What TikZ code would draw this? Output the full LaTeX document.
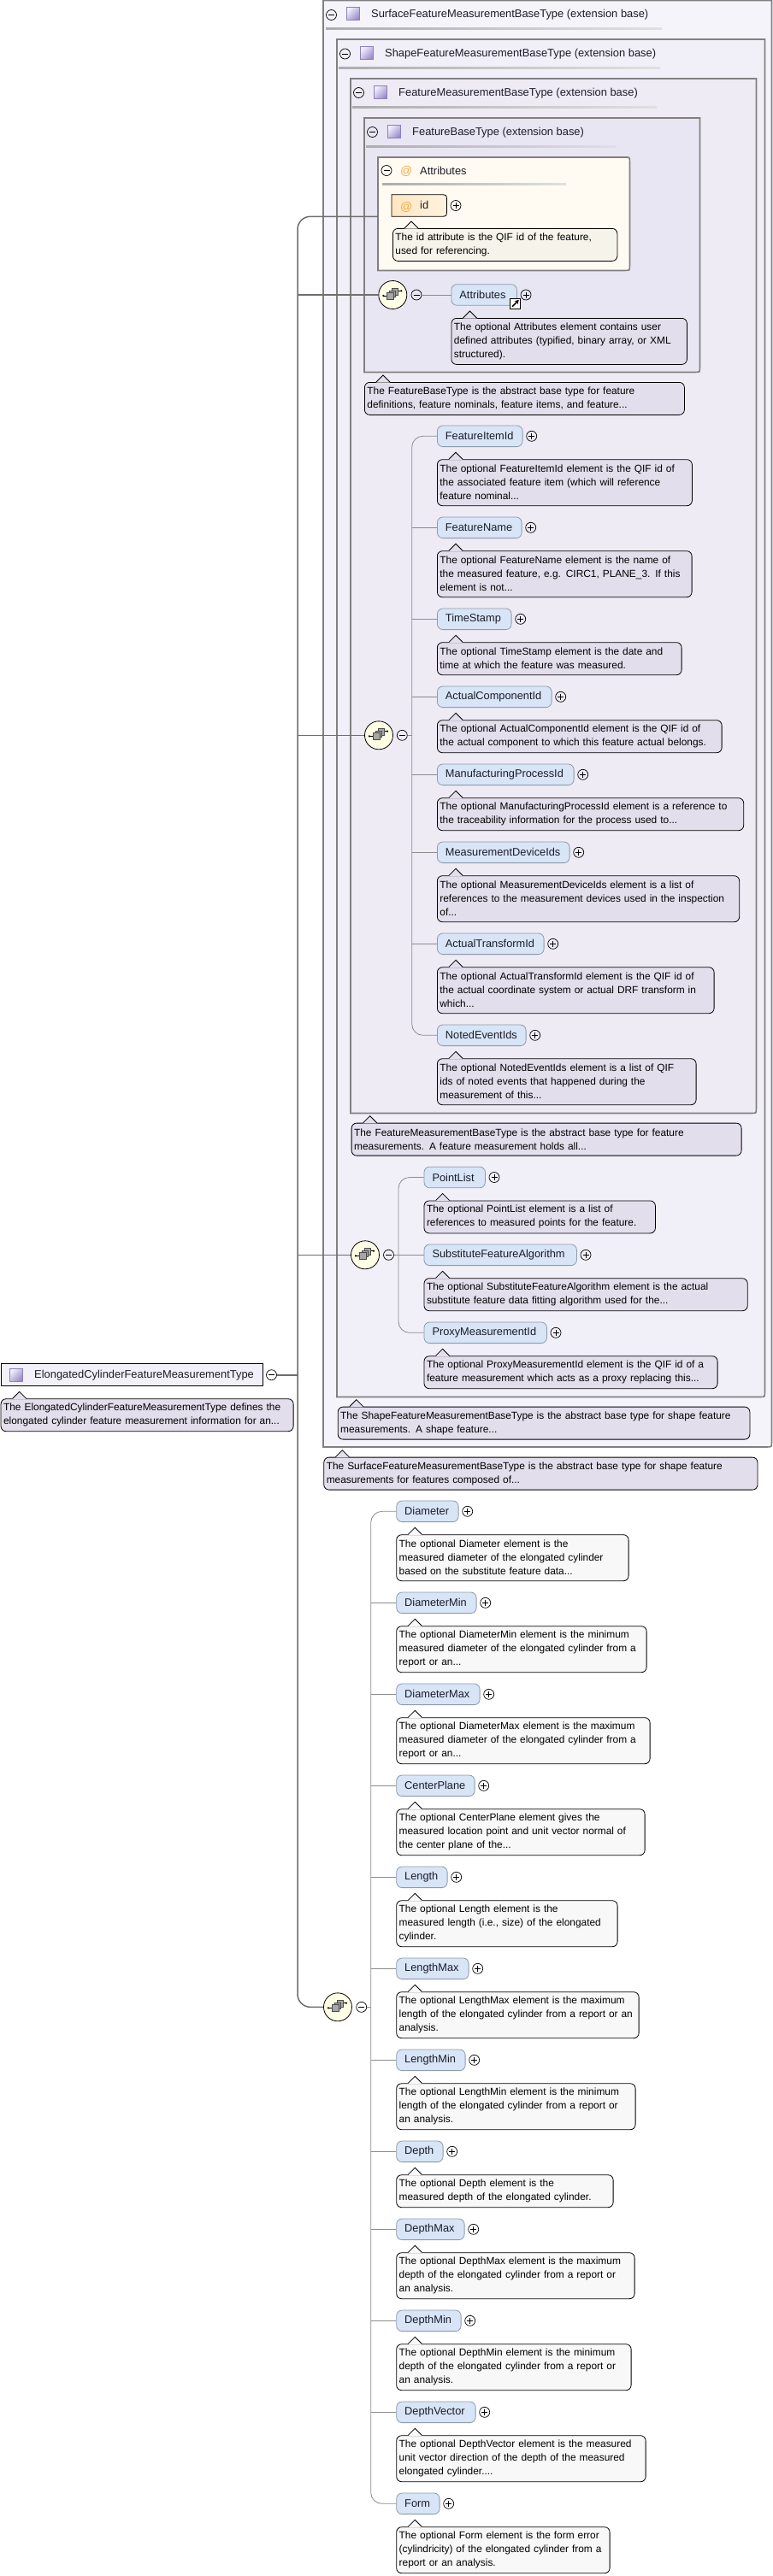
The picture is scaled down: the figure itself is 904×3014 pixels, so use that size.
\documentclass[tikz,border=0pt]{standalone}
\usepackage{fontspec}
\setmainfont{Liberation Sans}
\usetikzlibrary{calc,arrows.meta}

\hyphenpenalty=10000
\exhyphenpenalty=10000

\definecolor{linegray}{HTML}{808080}
\definecolor{branchgray}{HTML}{8C8C8C}
\definecolor{busgray}{HTML}{6E6E6E}
\definecolor{elemfill}{HTML}{D7E5F7}
\definecolor{elemline}{HTML}{8E9BAA}
\definecolor{noteviolet}{HTML}{E3DEEC}
\definecolor{notewhite}{HTML}{F8F8F8}
\definecolor{notecream}{HTML}{F6F3EA}
\definecolor{roletext}{HTML}{1C1C28}
\definecolor{atorange}{HTML}{F0AC45}
\definecolor{surfacefill}{HTML}{F6F4FB}
\definecolor{shapefill}{HTML}{F1EFF8}
\definecolor{measurefill}{HTML}{EEEBF5}
\definecolor{featurefill}{HTML}{E9E6F3}
\definecolor{attrfill}{HTML}{FFFBF2}
\definecolor{rootfill}{HTML}{F2F0F9}
\definecolor{iconlight}{HTML}{F1EFFA}
\definecolor{icondark}{HTML}{9C8CCB}
\definecolor{iconline}{HTML}{8D7FBD}
\definecolor{seqfill}{HTML}{FFFFE6}
\definecolor{idleft}{HTML}{FFE6C2}
\definecolor{idright}{HTML}{FFF3DE}
\colorlet{notefill}{noteviolet}

\pgfdeclarehorizontalshading{titlerule}{100bp}{color(0bp)=(gray!8); color(18bp)=(gray!70); color(100bp)=(gray!4)}

\newcommand{\notebox}[6]{%
  \pgfmathsetlengthmacro{\notew}{(#4-#2)*1pt}%
  \pgfmathsetlengthmacro{\notetw}{(#4-#2-6)*1pt}%
  \node[notenode, minimum width=\notew, text width=\notetw, minimum height=#5pt] (#1) at (#2,#3) {#6};
  \fill[notefill] ($(#1.north west)+(14,0.7)$) -- ++(8,-8.7) -- ++(8,8.7) -- cycle;
  \draw[notetip] ($(#1.north west)+(14,0)$) -- ++(8,-8) -- ++(8,8);
}
\newcommand{\elemrow}[7]{%
  \pgfmathsetlengthmacro{\elemw}{(#4-\rowx)*1pt}%
  \pgfmathsetlengthmacro{\elemtw}{(#4-\rowx-19)*1pt}%
  \node[elemnode, minimum width=\elemw, text width=\elemtw] (#1) at (\rowx,#3) {#2};
  \node[plusnode] (#1Plus) at ({#4+11},#3) {};
  \pgfmathsetmacro{\notetop}{#3+27}%
  \notebox{#1Note}{\rowx}{\notetop}{#5}{#6}{#7}
}
\newcommand{\groupbox}[6]{%
  \pgfmathsetlengthmacro{\groupw}{(#4-#2)*1pt}%
  \pgfmathsetlengthmacro{\grouph}{(#5-#3)*1pt}%
  \node[anchor=north west, inner sep=0pt, minimum width=\groupw, minimum height=\grouph] (#1) at (#2,#3) {};
  \draw[groupline, fill=#6] (#1.north west) -- (#1.north east) -- ($(#1.south east)+(0,-5)$)
    .. controls (#1.south east) .. ($(#1.south east)+(-5,0)$) -- (#1.south west) -- cycle;
}
\newcommand{\seqmark}[1]{%
  \begin{scope}[shift={(#1.center)}]
    \draw[line width=.9pt] (-11,1) -- (-6,1);
    \draw[line width=.9pt] (5,-4.7) -- (10,-4.7);
    \fill (-11,1) circle (1.2);
    \fill (10,-4.7) circle (1.2);
    \draw[seqsquare] (-1,-7.5) rectangle (6.5,0);
    \draw[seqsquare] (-4,-5) rectangle (3.5,2.5);
    \draw[seqsquare] (-7,-2.5) rectangle (1,5.2);
  \end{scope}
}

\begin{document}
\begin{tikzpicture}[
  x=1pt, y=-1pt,
  font=\fontsize{11.9}{16}\selectfont,
  groupline/.style={draw=linegray, line width=1.7pt},
  titletext/.style={anchor=west, inner sep=0pt, text=roletext, font=\fontsize{12.9}{16}\selectfont},
  titlerulebar/.style={shading=titlerule},
  typeicon/.style={draw=iconline, line width=.8pt, minimum size=15pt, inner sep=0pt,
    top color=iconlight, bottom color=icondark, shading angle=45},
  notenode/.style={draw=black, line width=.8pt, fill=notefill, rounded corners=6pt, anchor=north west,
    inner xsep=3pt, inner ysep=0pt, align=left, text=black},
  notetip/.style={draw=black, line width=.8pt},
  elemnode/.style={draw=elemline, line width=.8pt, fill=elemfill, rounded corners=6.5pt, anchor=west,
    minimum height=24.6pt, inner xsep=9.5pt, inner ysep=0pt, align=left, text=roletext,
    font=\fontsize{12.8}{16}\selectfont},
  plusnode/.style={circle, draw=black, line width=.7pt, minimum size=12pt, inner sep=0pt,
    path picture={\draw[line width=.7pt] ($(path picture bounding box.center)+(-3.5,0)$) -- ++(7,0);
      \draw[line width=.7pt] ($(path picture bounding box.center)+(0,-3.5)$) -- ++(0,7);}},
  minusnode/.style={circle, draw=black, line width=.7pt, minimum size=12pt, inner sep=0pt,
    path picture={\draw[line width=.7pt] ($(path picture bounding box.center)+(-3.5,0)$) -- ++(7,0);}},
  seqnode/.style={circle, draw=black, line width=.8pt, fill=seqfill, minimum size=33pt, inner sep=0pt},
  seqsquare/.style={draw=black!70, line width=.7pt, fill=black!35},
  branch/.style={draw=branchgray, line width=.8pt},
  bus/.style={draw=busgray, line width=1.5pt},
  linkbox/.style={draw=black, fill=white, line width=.8pt, minimum size=12pt, inner sep=0pt}
]
  \useasboundingbox (0,0) rectangle (904,3014);
  \fill[white] (0,0) rectangle (904,3014);

  % nested extension bases
  \groupbox{surfaceBox}{378}{0.5}{902}{1692.5}{surfacefill}
  \groupbox{shapeBox}{394}{46}{894}{1634}{shapefill}
  \groupbox{measureBox}{410}{92}{884}{1302}{measurefill}
  \groupbox{featureBox}{426}{138}{818}{435}{featurefill}

  \node[minusnode] (surfaceMinus) at (387.5,17.5) {};
  \node[typeicon] (surfaceIcon) at (413,16) {};
  \node[titletext] (surfaceTitle) at (434,17) {SurfaceFeatureMeasurementBaseType (extension base)};
  \shade[titlerulebar] (381,32.5) rectangle (774,34.5);
  \node[minusnode] (shapeMinus) at (403.5,63) {};
  \node[typeicon] (shapeIcon) at (429,62) {};
  \node[titletext] (shapeTitle) at (450,63) {ShapeFeatureMeasurementBaseType (extension base)};
  \shade[titlerulebar] (396,78.5) rectangle (772,80.5);
  \node[minusnode] (measureMinus) at (419.5,108.5) {};
  \node[typeicon] (measureIcon) at (445,108) {};
  \node[titletext] (measureTitle) at (466,109) {FeatureMeasurementBaseType (extension base)};
  \shade[titlerulebar] (412,124.5) rectangle (768,126.5);
  \node[minusnode] (featureMinus) at (435.5,154.5) {};
  \node[typeicon] (featureIcon) at (461,154) {};
  \node[titletext] (featureTitle) at (482,155) {FeatureBaseType (extension base)};
  \shade[titlerulebar] (428,170.5) rectangle (721,172.5);

  % attribute group
  \node[anchor=north west, inner sep=0pt, minimum width=294pt, minimum height=132pt] (attrBox) at (442,184) {};
  \draw[groupline, fill=attrfill] (attrBox.north west) -- ($(attrBox.north east)+(-5,0)$)
    .. controls (attrBox.north east) .. ($(attrBox.north east)+(0,5)$)
    -- ($(attrBox.south east)+(0,-5)$) .. controls (attrBox.south east) .. ($(attrBox.south east)+(-5,0)$)
    -- (attrBox.south west) -- cycle;
  \node[minusnode] (attrMinus) at (452,199.5) {};
  \node[titletext, text=atorange, font=\fontsize{14}{16}\selectfont] (attrAt) at (468,200.5) {@};
  \node[titletext] (attrTitle) at (491,199.5) {Attributes};
  \shade[titlerulebar] (447,214.5) rectangle (662,216.5);
  \node[anchor=west, inner sep=0pt, minimum width=64pt, minimum height=25pt] (idAttr) at (458,240.5) {};
  \draw[draw=black, line width=.8pt, left color=idleft, right color=idright]
    (idAttr.north west) -- ($(idAttr.north east)+(-7,0)$) .. controls (idAttr.north east) .. ($(idAttr.north east)+(0,7)$)
    -- ($(idAttr.south east)+(0,-7)$) .. controls (idAttr.south east) .. ($(idAttr.south east)+(-7,0)$)
    -- (idAttr.south west) -- cycle;
  \node[titletext, text=atorange, font=\fontsize{14}{16}\selectfont] (idAt) at (468,242) {@};
  \node[titletext] (idLabel) at (491,240) {id};
  \node[plusnode] (idPlus) at (533,240.5) {};
  \colorlet{notefill}{notecream}
  \notebox{idNote}{459}{267}{721.5}{38}{The id attribute is the QIF id of the feature,\\used for referencing.}

  \colorlet{notefill}{noteviolet}
  \coordinate (attrPort) at (442,253.3);

  % FeatureBaseType content
  \def\rowx{527.5}
  \node[seqnode] (seqA) at (459.3,345) {};
  \seqmark{seqA}
  \node[minusnode] (seqAminus) at (487,345) {};
  \elemrow{attrElem}{Attributes}{345}{604}{803}{54}{The optional Attributes element contains user\\defined attributes (typified, binary array, or XML\\structured).}
  \node[linkbox] (attrLink) at (602.5,355.2) {};
  \draw[-{Stealth[length=4.5pt,width=5.5pt]}, line width=1.5pt] ($(attrLink.center)+(-3.5,3.5)$) -- ($(attrLink.center)+(4.2,-4.2)$);
  \draw[branch] (seqAminus) -- (attrElem.west);

  \notebox{featureNote}{426}{447}{800}{38}{The FeatureBaseType is the abstract base type for feature\\definitions, feature nominals, feature items, and feature...}

  % FeatureMeasurementBaseType content
  \def\rowx{511}
  \node[seqnode] (seqB) at (443,860.3) {};
  \seqmark{seqB}
  \node[minusnode] (seqBminus) at (470.3,860.3) {};
  \coordinate (trunkB) at (481.7,860.3);
  \elemrow{featureItemId}{FeatureItemId}{510.3}{610.7}{809}{54}{The optional FeatureItemId element is the QIF id of\\the associated feature item (which will reference\\feature nominal...}
  \elemrow{featureName}{FeatureName}{617.3}{609.7}{808.7}{54}{The optional FeatureName element is the name of\\the measured feature, e.g. CIRC1, PLANE\_3. If this\\element is not...}
  \elemrow{timeStamp}{TimeStamp}{724.3}{597.7}{796.7}{38}{The optional TimeStamp element is the date and\\time at which the feature was measured.}
  \elemrow{actualComponentId}{ActualComponentId}{815.3}{644.7}{843.7}{38}{The optional ActualComponentId element is the QIF id of\\the actual component to which this feature actual belongs.}
  \elemrow{manufacturingProcessId}{ManufacturingProcessId}{906.3}{670.7}{869.3}{38}{The optional ManufacturingProcessId element is a reference to\\the traceability information for the process used to...}
  \elemrow{measurementDeviceIds}{MeasurementDeviceIds}{997.3}{665.7}{864.3}{54}{The optional MeasurementDeviceIds element is a list of\\references to the measurement devices used in the inspection\\of...}
  \elemrow{actualTransformId}{ActualTransformId}{1104.3}{635.7}{834.7}{54}{The optional ActualTransformId element is the QIF id of\\the actual coordinate system or actual DRF transform in\\which...}
  \elemrow{notedEventIds}{NotedEventIds}{1211.3}{614.7}{813.7}{54}{The optional NotedEventIds element is a list of QIF\\ids of noted events that happened during the\\measurement of this...}
  \draw[branch, rounded corners=13pt] (featureItemId.west) -| (trunkB) |- (notedEventIds.west);
  \draw[branch] (seqBminus) -- (trunkB);
  \foreach \elemname in {featureName,timeStamp,actualComponentId,manufacturingProcessId,measurementDeviceIds,actualTransformId}
    \draw[branch] (trunkB |- \elemname.west) -- (\elemname.west);

  \notebox{measureNote}{410.7}{1313.7}{866.7}{38}{The FeatureMeasurementBaseType is the abstract base type for feature\\measurements. A feature measurement holds all...}

  % ShapeFeatureMeasurementBaseType content
  \def\rowx{495.6}
  \node[seqnode] (seqC) at (427,1468.3) {};
  \seqmark{seqC}
  \node[minusnode] (seqCminus) at (454.5,1468.3) {};
  \coordinate (trunkC) at (466,1468.3);
  \elemrow{pointList}{PointList}{1377.5}{567}{766}{38}{The optional PointList element is a list of\\references to measured points for the feature.}
  \elemrow{substituteAlgorithm}{SubstituteFeatureAlgorithm}{1468.3}{674}{873.8}{38}{The optional SubstituteFeatureAlgorithm element is the actual\\substitute feature data fitting algorithm used for the...}
  \elemrow{proxyMeasurementId}{ProxyMeasurementId}{1559.3}{639}{838.7}{38}{The optional ProxyMeasurementId element is the QIF id of a\\feature measurement which acts as a proxy replacing this...}
  \draw[branch, rounded corners=13pt] (pointList.west) -| (trunkC) |- (proxyMeasurementId.west);
  \draw[branch] (seqCminus) -- (substituteAlgorithm.west);

  \notebox{shapeNote}{394.8}{1645.7}{876.5}{38}{The ShapeFeatureMeasurementBaseType is the abstract base type for shape feature\\measurements. A shape feature...}
  \notebox{surfaceNote}{378.4}{1704.7}{885.6}{38}{The SurfaceFeatureMeasurementBaseType is the abstract base type for shape feature\\measurements for features composed of...}

  % root type
  \node[anchor=west, draw=black, line width=.8pt, fill=rootfill, minimum width=306pt, minimum height=26pt, inner sep=0pt] (rootType) at (0.5,1608.7) {};
  \node[typeicon] (rootIcon) at (19,1608.7) {};
  \node[titletext] (rootTitle) at (40,1608.7) {ElongatedCylinderFeatureMeasurementType};
  \node[minusnode] (rootMinus) at (317.5,1608.7) {};
  \notebox{rootNote}{0.7}{1636.3}{342.7}{38}{The ElongatedCylinderFeatureMeasurementType defines the\\elongated cylinder feature measurement information for an...}

  % sequence of own elements
  \colorlet{notefill}{notewhite}
  \def\rowx{463.3}
  \node[seqnode] (seqD) at (395,2348.3) {};
  \seqmark{seqD}
  \node[minusnode] (seqDminus) at (422.7,2348.3) {};
  \coordinate (trunkD) at (433.7,2348.3);
  \elemrow{diameter}{Diameter}{1768.3}{535.7}{734.7}{54}{The optional Diameter element is the\\measured diameter of the elongated cylinder\\based on the substitute feature data...}
  \elemrow{diameterMin}{DiameterMin}{1875.3}{556.7}{755.7}{54}{The optional DiameterMin element is the minimum\\measured diameter of the elongated cylinder from a\\report or an...}
  \elemrow{diameterMax}{DiameterMax}{1982.3}{560.7}{759.7}{54}{The optional DiameterMax element is the maximum\\measured diameter of the elongated cylinder from a\\report or an...}
  \elemrow{centerPlane}{CenterPlane}{2089.3}{554.7}{753.7}{54}{The optional CenterPlane element gives the\\measured location point and unit vector normal of\\the center plane of the...}
  \elemrow{lengthElem}{Length}{2196.3}{522.7}{721.7}{54}{The optional Length element is the\\measured length (i.e., size) of the elongated\\cylinder.}
  \elemrow{lengthMax}{LengthMax}{2303.3}{547.7}{746.7}{54}{The optional LengthMax element is the maximum\\length of the elongated cylinder from a report or an\\analysis.}
  \elemrow{lengthMin}{LengthMin}{2410.3}{543.7}{742.7}{54}{The optional LengthMin element is the minimum\\length of the elongated cylinder from a report or\\an analysis.}
  \elemrow{depthElem}{Depth}{2517.3}{517.7}{716.7}{38}{The optional Depth element is the\\measured depth of the elongated cylinder.}
  \elemrow{depthMax}{DepthMax}{2608.3}{542.7}{741.7}{54}{The optional DepthMax element is the maximum\\depth of the elongated cylinder from a report or\\an analysis.}
  \elemrow{depthMin}{DepthMin}{2715.3}{538.7}{737.7}{54}{The optional DepthMin element is the minimum\\depth of the elongated cylinder from a report or\\an analysis.}
  \elemrow{depthVector}{DepthVector}{2822.3}{555.7}{754.7}{54}{The optional DepthVector element is the measured\\unit vector direction of the depth of the measured\\elongated cylinder....}
  \elemrow{formElem}{Form}{2929.3}{513.7}{712.7}{54}{The optional Form element is the form error\\(cylindricity) of the elongated cylinder from a\\report or an analysis.}
  \draw[branch, rounded corners=13pt] (diameter.west) -| (trunkD) |- (formElem.west);
  \draw[branch] (seqDminus) -- (trunkD);
  \foreach \elemname in {diameterMin,diameterMax,centerPlane,lengthElem,lengthMax,lengthMin,depthElem,depthMax,depthMin,depthVector}
    \draw[branch] (trunkD |- \elemname.west) -- (\elemname.west);

  % main connector
  \coordinate (busMid) at (348,1608.7);
  \draw[bus, rounded corners=15pt] (attrPort) -| (busMid) |- (seqD.west);
  \draw[bus] (seqA.west) -- (seqA.west -| busMid);
  \draw[bus] (seqB.west) -- (seqB.west -| busMid);
  \draw[bus] (seqC.west) -- (seqC.west -| busMid);
  \draw[bus, line width=2pt] (rootMinus.east) -- (busMid);
\end{tikzpicture}
\end{document}
